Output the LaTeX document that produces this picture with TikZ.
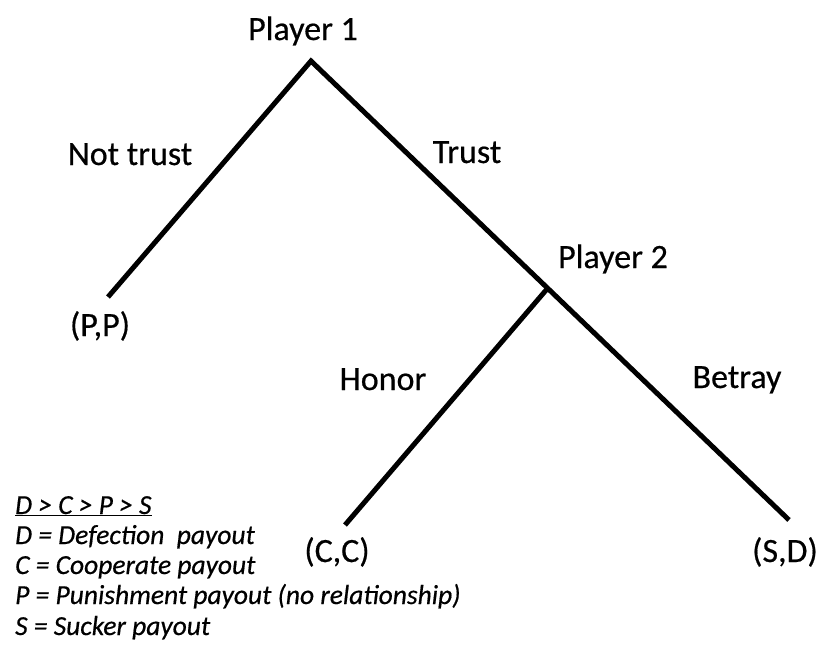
\documentclass[tikz,border=0pt]{standalone}
\usepackage{fontspec}
\setmainfont{Carlito}[FakeBold=0.5]
\begin{document}
\begin{tikzpicture}[x=1pt,y=-1pt,
  branch/.style={line width=5pt, line cap=butt, line join=miter},
  lbl/.style={font=\fontsize{34}{40}\selectfont, inner sep=0pt, anchor=base},
  legend/.style={font=\fontsize{27.5}{30}\selectfont\itshape, inner sep=0pt, anchor=base west}]
\useasboundingbox (0,0) rectangle (820,649);

% tree vertices
\coordinate (root) at (311,61);
\coordinate (p2)   at (547,289);
\coordinate (ppend) at (108,297);
\coordinate (ccend) at (345,525);
\coordinate (sdend) at (789,520);

% branches
\draw[branch] (ppend) -- (root) -- (sdend);
\draw[branch] (p2) -- (ccend);

% players, moves and payoffs
\node[lbl] (pl1) at (303,40)  {Player 1};
\node[lbl] (nt)  at (130,165) {Not trust};
\node[lbl] (tr)  at (467,163) {Trust};
\node[lbl] (pl2) at (613,268) {Player 2};
\node[lbl] (lpp) at (100,336) {(P,P)};
\node[lbl] (hon) at (383,390) {Honor};
\node[lbl] (bet) at (737,388) {Betray};
\node[lbl] (lcc) at (337,562) {(C,C)};
\node[lbl] (lsd) at (785,562) {(S,D)};

% legend
\node[legend] (k0) at (15,514) {\underline{D > C > P > S}};
\node[legend] (k1) at (15,544) {D = Defection\ \ payout};
\node[legend] (k2) at (15,574) {C = Cooperate payout};
\node[legend] (k3) at (15,604) {P = Punishment payout (no relationship)};
\node[legend] (k4) at (15,635) {S = Sucker payout};
\end{tikzpicture}
\end{document}
